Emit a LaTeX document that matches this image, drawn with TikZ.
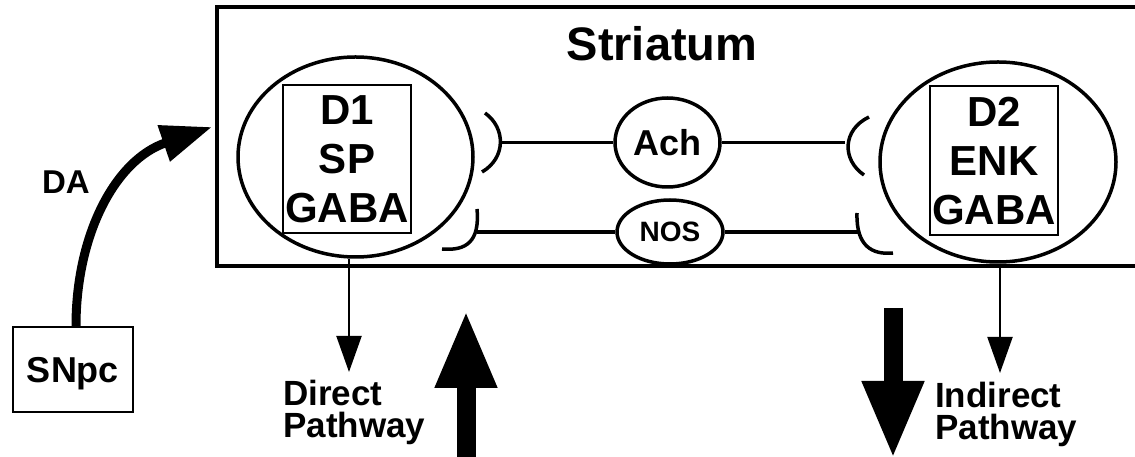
\documentclass[tikz,border=0pt]{standalone}
\usepackage{fontspec}
\setmainfont{Liberation Sans}
\usetikzlibrary{shapes.geometric,arrows.meta}
\newcommand\myfs[2]{\fontsize{#1bp}{#2bp}\selectfont}
\begin{document}
\begin{tikzpicture}[x=1bp,y=-1bp,
  thickline/.style={line width=3.5bp},
  cell/.style={ellipse, draw, line width=3.5bp, minimum width=235bp, minimum height=200bp, inner sep=0pt},
  markerbox/.style={draw, line width=1.6bp, minimum width=128bp, minimum height=148bp, inner sep=0pt, align=center, text depth=0pt, font=\bfseries\myfs{42}{49}},
  transmitter/.style={ellipse, draw, line width=3.5bp, inner sep=0pt},
  thinarrow/.style={line width=2bp, -{Triangle[length=36bp,width=25bp]}},
  bigarrow/.style={line width=19bp, -{Triangle[length=78bp,width=57bp]}},
  pathlabel/.style={anchor=north west, inner sep=0pt, align=left, font=\bfseries\myfs{35}{32}}]
\useasboundingbox (0,0) rectangle (1135,457);
\fill[white] (0,0) rectangle (1135,457);

% Striatum box (open to the right)
\draw[line width=4bp] (1150,7) -- (217,7) -- (217,266) -- (1150,266);
\node[font=\bfseries\myfs{47}{50}] (title) at (662,44) {Striatum};

% cells
\node[cell] (cellL) at (355.5,157) {};
\node[markerbox] (boxL) at (347,159) {D1\\SP\\GABA};
\node[cell, minimum width=236bp] (cellR) at (998,162) {};
\node[markerbox, minimum height=149bp] (boxR) at (994,160.5) {D2\\ENK\\GABA};

% interneurons
\node[transmitter, minimum width=105bp, minimum height=89bp, font=\bfseries\myfs{36}{40}] (ach) at (667.5,142.5) {Ach};
\node[transmitter, minimum width=106bp, minimum height=64bp, font=\bfseries\myfs{28}{32}] (nos) at (670,232) {NOS};

% synapse contacts
\coordinate (achL) at (500,142.5);
\coordinate (achR) at (845,142.5);
\coordinate (nosL) at (477,232);
\coordinate (nosR) at (858,232);
\draw[thickline] (485,113) .. controls (506,128) and (506,158) .. (482,172);
\draw[thickline] (477,209) .. controls (480,242) and (466,251) .. (442,249);
\draw[thickline] (869,117) .. controls (842,130) and (842,160) .. (864,175);
\draw[thickline] (857,213) .. controls (856,246) and (872,255) .. (893,253);
\draw[thickline] (achL) -- (ach.west);
\draw[thickline] (ach.east) -- (achR);
\draw[thickline] (nosL) -- (nos.west);
\draw[thickline] (nos.east) -- (nosR);

% outputs
\coordinate (dTip) at (349,372);
\coordinate (iTip) at (1000,373);
\draw[thinarrow] (dTip |- cellL.south) -- (dTip);
\draw[thinarrow] (iTip |- cellR.south) -- (iTip);
\node[pathlabel] (direct) at (283,380) {Direct\\Pathway};
\node[pathlabel] (indirect) at (935,382) {Indirect\\Pathway};

% big arrows
\coordinate (upS) at (466,460);
\coordinate (upT) at (466,310);
\coordinate (dnS) at (893,308);
\coordinate (dnT) at (893,459);
\draw[bigarrow] (upS) -- (upT);
\draw[bigarrow] (dnS) -- (dnT);

% SNpc and dopamine input
\node[draw, line width=2bp, minimum width=120bp, minimum height=85bp, inner sep=0pt, text depth=0pt, font=\bfseries\myfs{36}{40}] (snpc) at (73,369.5) {SNpc};
\node[font=\bfseries\myfs{33}{36}] (da) at (66,182) {DA};
\coordinate (daTip) at (212,127);
\draw[line width=9bp, -{Triangle[length=51bp,width=36bp]}] ([xshift=3bp]snpc.north) .. controls (76,235) and (115,160) .. (daTip);
\end{tikzpicture}
\end{document}
